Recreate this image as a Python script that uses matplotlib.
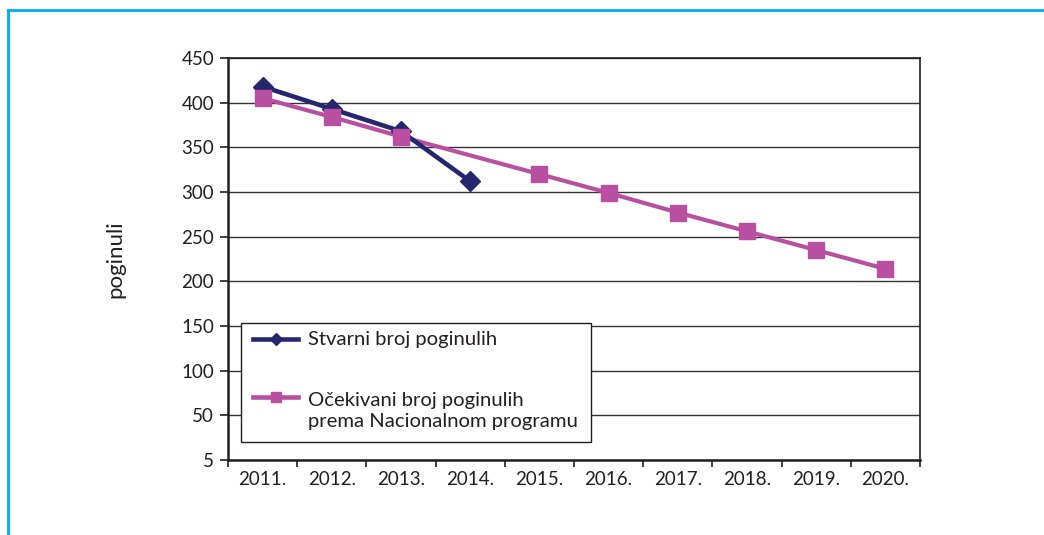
import matplotlib
matplotlib.use("Agg")
import matplotlib.pyplot as plt
from matplotlib.lines import Line2D
from matplotlib.patches import Rectangle

years = ["2011.", "2012.", "2013.", "2014.", "2015.", "2016.", "2017.", "2018.", "2019.", "2020."]
actual = [418, 393, 368, 312]
expected = [405, 384, 362, 341, 320, 299, 277, 256, 235, 214]
yticks = [0, 50, 100, 150, 200, 250, 300, 350, 400, 450]
ytick_labels = ["5", "50", "100", "150", "200", "250", "300", "350", "400", "450"]
series_names = ["Stvarni broj poginulih", "Očekivani broj poginulih\nprema Nacionalnom programu"]

plt.rcParams['font.family'] = ['Lato', 'DejaVu Sans']
W, H = 1044, 535
fig = plt.figure(figsize=(W / 100, H / 100), dpi=100)

# outer blue frame (top and left)
fig.add_artist(Line2D([8/W, 1], [1 - 10/H, 1 - 10/H], color='#00aeef', lw=2))
fig.add_artist(Line2D([8/W, 8/W], [0, 1 - 10/H], color='#00aeef', lw=2))

AX0, AX1, AY0, AY1 = 228, 920, 460, 58
ax = fig.add_axes([AX0/W, 1 - AY0/H, (AX1-AX0)/W, (AY0-AY1)/H])
x = list(range(len(years)))
blue = '#25276e'
pink = '#b84fa0'
ink = '#231f20'
marked = [0, 1, 2, 4, 5, 6, 7, 8, 9]
ax.plot(x, expected, color=pink, lw=3, zorder=3)
ax.plot(x[:len(actual)], actual, color=blue, lw=3.3, marker='D', markersize=10, zorder=4)
ax.plot(x, expected, color=pink, lw=0, marker='s', markersize=11, markevery=marked, zorder=5)

ax.set_xlim(-0.5, len(years) - 0.5)
ax.set_ylim(0, 450)
ax.set_yticks(yticks)
ax.set_yticklabels(ytick_labels)
ax.set_xticks([i - 0.5 for i in range(len(years) + 1)])
ax.set_xticklabels([])
ax.set_xticks(x, minor=True)
ax.set_xticklabels(years, minor=True)
ax.tick_params(axis='x', which='minor', length=0, pad=8, labelsize=13.5, colors=ink)
ax.tick_params(axis='x', which='major', length=5, width=1.2, direction='out', color=ink)
ax.tick_params(axis='y', length=6, width=1.2, direction='out', labelsize=13.5, colors=ink, pad=4)
ax.grid(axis='y', color='#333333', lw=1)
for s in ['left', 'bottom']:
    ax.spines[s].set_linewidth(1.8)
    ax.spines[s].set_color(ink)
for s in ['top', 'right']:
    ax.spines[s].set_linewidth(1.2)
    ax.spines[s].set_color(ink)
ax.set_axisbelow(True)

ax.set_ylabel("poginuli", fontsize=16, color=ink, labelpad=40)

# manual legend (handle aligned with first line of text, as in the original)
def axx(px):
    return (px - AX0) / (AX1 - AX0)

def axy(py):
    return (AY0 - py) / (AY0 - AY1)

box = Rectangle((axx(241), axy(442)), axx(591) - axx(241), axy(323) - axy(442),
                transform=ax.transAxes, facecolor='white', edgecolor=ink, lw=1.0, zorder=6)
ax.add_patch(box)
ax.add_line(Line2D([axx(253), axx(298)], [axy(339), axy(339)], transform=ax.transAxes,
                   color=blue, lw=3.3, zorder=7))
ax.add_line(Line2D([axx(275.5)], [axy(339)], transform=ax.transAxes, color=blue,
                   marker='D', markersize=6.5, zorder=8))
ax.add_line(Line2D([axx(253), axx(298)], [axy(397), axy(397)], transform=ax.transAxes,
                   color=pink, lw=3.3, zorder=7))
ax.add_line(Line2D([axx(275.5)], [axy(397)], transform=ax.transAxes, color=pink,
                   marker='s', markersize=6.5, zorder=8))
ax.text(axx(308), axy(339), series_names[0], transform=ax.transAxes, fontsize=14.6,
        color=ink, va='center', ha='left', zorder=8)
ax.text(axx(308), axy(411), series_names[1], transform=ax.transAxes, fontsize=14.6,
        color=ink, va='center', ha='left', linespacing=1.3, zorder=8)

fig.savefig("out.png", dpi=100)
